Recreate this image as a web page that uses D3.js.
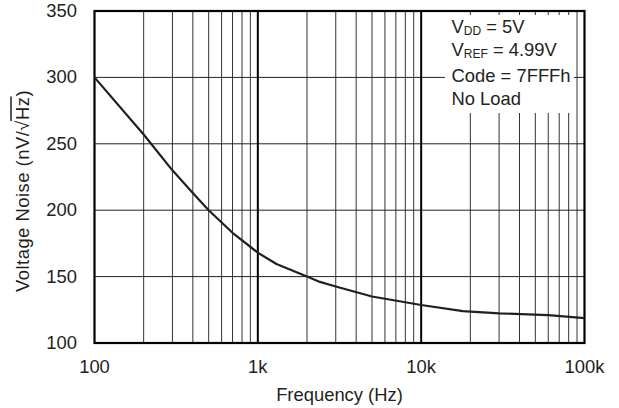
<!DOCTYPE html>
<html>
<head>
<meta charset="utf-8">
<script src="https://cdn.jsdelivr.net/npm/d3@7"></script>
<style>
  body { margin: 0; background: #fff; }
  text { font-family: "Liberation Sans", Arial, Helvetica, sans-serif; fill: #231f20; }
</style>
</head>
<body>
<script>
// ** Data
var freq  = [100, 200, 300, 400, 500, 700, 1000, 1300, 2000, 2400, 3000, 5000, 10000, 18000, 30000, 60000, 100000];
var noise = [300, 257, 230, 213, 200, 183, 168, 159.5, 150, 146, 142.5, 135, 128.6, 124, 122.3, 121, 118.7];
var yTicks = [100, 150, 200, 250, 300, 350];
var xTicks = [100, 1000, 10000, 100000];
var xTickLabels = ['100', '1k', '10k', '100k'];
var noteMain = ['V', 'V', 'Code = 7FFFh', 'No Load'];
var noteSub  = ['DD', 'REF', '', ''];
var noteRest = [' = 5V', ' = 4.99V', '', ''];

var W = 619, H = 408;
var pLeft = 94.5, pRight = 584.5, pTop = 11, pBottom = 343;
var fs = 18.4;

var svg = d3.select('body').append('svg')
    .attr('width', W)
    .attr('height', H);

var x = d3.scaleLog().domain([100, 100000]).range([pLeft, pRight]);
var y = d3.scaleLinear().domain([100, 350]).range([pBottom, pTop]);

// ** minor vertical grid
var minor = [];
[100, 1000, 10000].forEach(function(d){
  for (var k = 2; k <= 9; k++) minor.push(d * k);
});
svg.append('g').selectAll('line').data(minor).enter().append('line')
    .attr('x1', function(d){ return x(d); })
    .attr('x2', function(d){ return x(d); })
    .attr('y1', pTop).attr('y2', pBottom)
    .attr('stroke', '#333').attr('stroke-width', 1);

// ** horizontal grid
svg.append('g').selectAll('line').data(yTicks.slice(1, -1)).enter().append('line')
    .attr('x1', pLeft).attr('x2', pRight)
    .attr('y1', function(d){ return y(d); })
    .attr('y2', function(d){ return y(d); })
    .attr('stroke', '#222').attr('stroke-width', 1);

// ** decade lines
svg.append('g').selectAll('line').data([1000, 10000]).enter().append('line')
    .attr('x1', function(d){ return x(d); })
    .attr('x2', function(d){ return x(d); })
    .attr('y1', pTop).attr('y2', pBottom)
    .attr('stroke', '#000').attr('stroke-width', 2);

// ** white box behind the notes
svg.append('rect')
    .attr('x', 445).attr('y', 15)
    .attr('width', 129).attr('height', 98)
    .attr('fill', '#fff');

// ** plot frame
svg.append('rect')
    .attr('x', pLeft).attr('y', pTop)
    .attr('width', pRight - pLeft).attr('height', pBottom - pTop)
    .attr('fill', 'none').attr('stroke', '#000').attr('stroke-width', 2.2);

// ** curve
var line = d3.line()
    .x(function(d, i){ return x(freq[i]); })
    .y(function(d){ return y(d); });
svg.append('path')
    .datum(noise)
    .attr('d', line)
    .attr('fill', 'none')
    .attr('stroke', '#231f20')
    .attr('stroke-width', 2.2)
    .attr('stroke-linejoin', 'round');

// ** y tick labels
svg.append('g').selectAll('text').data(yTicks).enter().append('text')
    .attr('x', 77)
    .attr('y', function(d){ return y(d) + 6; })
    .attr('text-anchor', 'end')
    .attr('font-size', fs)
    .text(function(d){ return d; });

// ** x tick labels
svg.append('g').selectAll('text').data(xTicks).enter().append('text')
    .attr('x', function(d){ return x(d); })
    .attr('y', 373)
    .attr('text-anchor', 'middle')
    .attr('font-size', fs)
    .text(function(d, i){ return xTickLabels[i]; });

// ** axis titles
svg.append('text')
    .attr('x', (pLeft + pRight) / 2)
    .attr('y', 400.5)
    .attr('text-anchor', 'middle')
    .attr('font-size', fs)
    .text('Frequency (Hz)');

var yTitle = svg.append('g').attr('transform', 'translate(28.5,191) rotate(-90)');
var yt = yTitle.append('text')
    .attr('x', 0).attr('y', 0)
    .attr('text-anchor', 'middle')
    .attr('font-size', fs)
    .attr('letter-spacing', 0.5)
    .text('Voltage Noise (nV/\u221AHz)');
// overline over Hz, joined to the radical
var full = yt.node().getComputedTextLength();
var s = yt.node().getSubStringLength(0, 19);
var e = yt.node().getSubStringLength(0, 21);
yTitle.append('line')
    .attr('x1', -full / 2 + s - 1).attr('x2', -full / 2 + e)
    .attr('y1', -17.5).attr('y2', -17.5)
    .attr('stroke', '#231f20').attr('stroke-width', 1.5);

// ** notes
var noteY = [33, 56, 82, 105];
noteMain.forEach(function(m, i){
  var t = svg.append('text')
      .attr('x', 451.5).attr('y', noteY[i])
      .attr('font-size', fs);
  t.append('tspan').text(m);
  if (noteSub[i]) {
    t.append('tspan').attr('font-size', 12).attr('dy', 2).text(noteSub[i]);
    t.append('tspan').attr('dy', -2).text(noteRest[i]);
  }
});
</script>
</body>
</html>
